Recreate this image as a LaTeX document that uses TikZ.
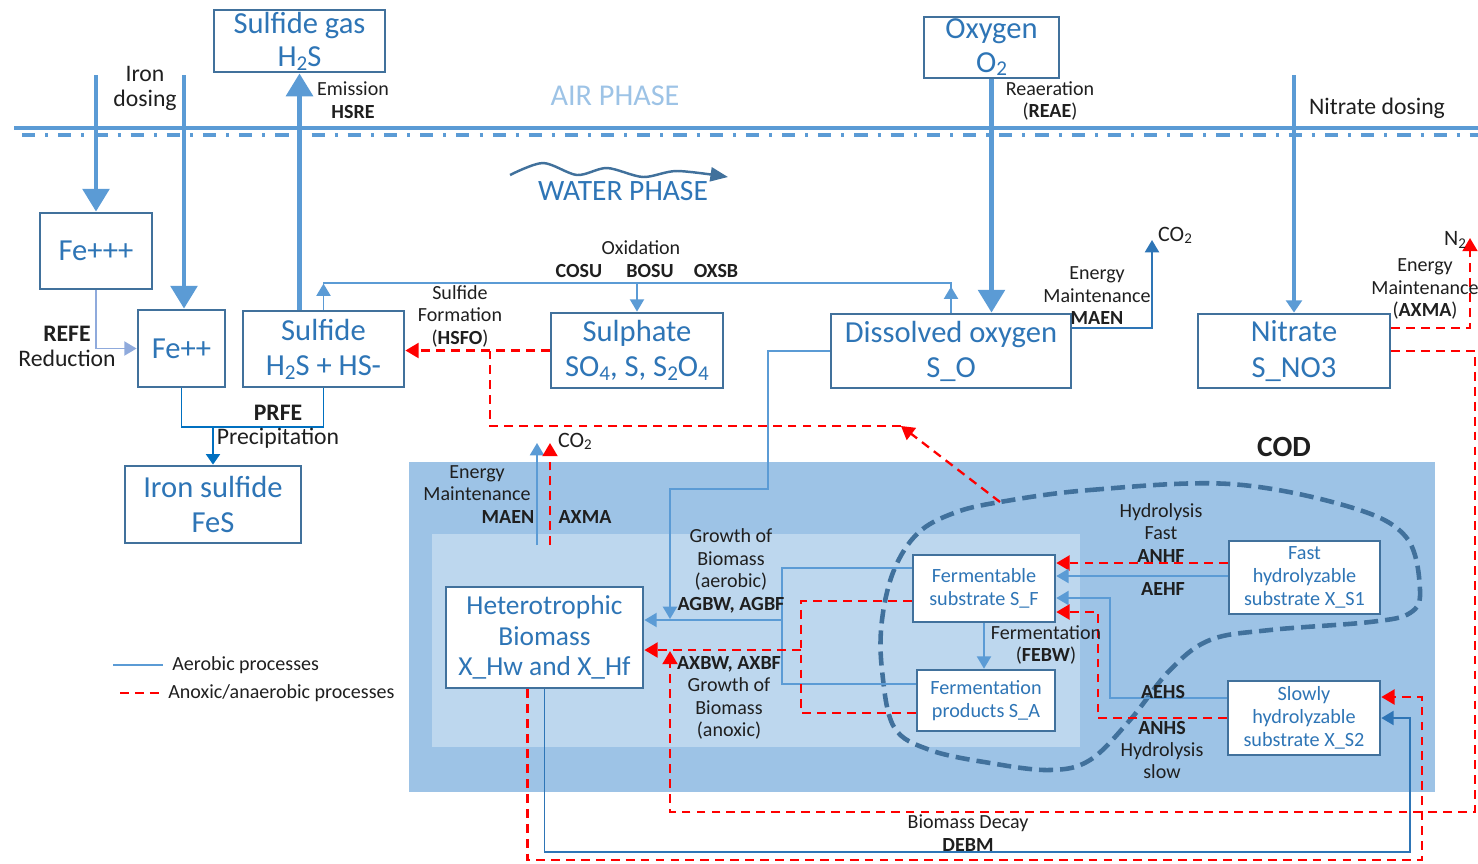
\documentclass[tikz,border=0pt]{standalone}
\usepackage{fontspec}
\setmainfont{Carlito}
\usetikzlibrary{arrows.meta,calc}
\definecolor{boxline}{HTML}{41719C}
\definecolor{boxtxt}{HTML}{2E75B6}
\definecolor{arrowblue}{HTML}{5B9BD5}
\definecolor{darkblue}{HTML}{2E75B6}
\definecolor{codfill}{HTML}{9DC3E6}
\definecolor{codinner}{HTML}{BDD7EE}
\definecolor{refeblue}{HTML}{8FAADC}
\definecolor{precblue}{HTML}{0070C0}
\definecolor{labeltxt}{HTML}{1F1F1F}
\newcommand{\subn}[1]{\raisebox{-0.12em}{\fontsize{12}{12}\selectfont#1}}
\newcommand{\subs}[1]{\raisebox{-0.1em}{\fontsize{8.5}{8.5}\selectfont#1}}
\begin{document}
\begin{tikzpicture}[x=0.02cm,y=-0.02cm,
	box/.style={draw=boxline,line width=1.6pt,fill=white,text=boxtxt,align=center,inner sep=0pt,font=\fontsize{17.4}{20}\selectfont},
	smallbox/.style={box,line width=1.5pt,font=\fontsize{11.5}{13}\selectfont},
	sz/.style 2 args={minimum width=#1*0.02cm,minimum height=#2*0.02cm},
	lbl/.style={align=center,inner sep=0pt,text=labeltxt,font=\fontsize{11.4}{12.8}\selectfont},
	biglbl/.style={lbl,font=\fontsize{13.5}{14.2}\selectfont},
	big/.style={draw=arrowblue,line width=2.8pt,-{Triangle[width=15pt,length=13pt]}},
	aer/.style={draw=arrowblue,line width=1.1pt},
	aerarr/.style={aer,-{Triangle[width=8pt,length=7pt]}},
	darkarr/.style={draw=darkblue,line width=1.1pt,-{Triangle[width=8pt,length=7pt]}},
	anox/.style={draw=red,line width=1.3pt,dash pattern=on 5pt off 3.5pt},
	anoxarr/.style={anox,-{Triangle[width=8.5pt,length=7.5pt]}}]
	\useasboundingbox (0,0) rectangle (1478,863);
	% air / water phase
	\draw[arrowblue,line width=2.8pt] (14,128)--(1478,128);
	\draw[arrowblue,line width=1.9pt,dash pattern=on 7.5pt off 5.7pt on 1.7pt off 5.7pt] (22,135)--(1478,135);
	\node[lbl,text=codfill,font=\fontsize{17.2}{20}\selectfont] (air) at (615,96) {AIR PHASE};
	\node[lbl,text=darkblue,font=\fontsize{16.8}{20}\selectfont] (water) at (623,191) {WATER PHASE};
	\draw[boxline,line width=1.4pt,-{Triangle[width=8pt,length=10pt]}] plot[smooth] coordinates {(510,175)(543,163)(577,175)(607,168)(643,177)(677,171)(728,177)};
	% COD region
	\fill[codfill] (409,462) rectangle (1435,792);
	\fill[codinner] (432,534) rectangle (1080,747);
	\node[lbl,font=\fontsize{16.7}{20}\selectfont\bfseries] (cod) at (1284,447) {COD};
	\draw[boxline,line width=2.6pt,dash pattern=on 8pt off 4pt] plot[smooth cycle,tension=0.6] coordinates {(1000,502)(1090,490)(1230,484)(1350,507)(1406,537)(1420,590)(1410,613)(1370,622)(1270,630)(1210,640)(1170,670)(1130,720)(1090,760)(1050,770)(990,763)(930,750)(894,727)(882,670)(882,620)(894,570)(918,533)(954,513)};
	% boxes
	\node[box,sz={171}{62},font=\fontsize{17.4}{19}\selectfont] (sgas) at (299.5,41) {Sulfide gas\\H\subn{2}S};
	\node[box,sz={135}{61},font=\fontsize{17.4}{19}\selectfont] (oxy) at (991.5,47.5) {Oxygen\\O\subn{2}};
	\node[box,sz={112}{76}] (fe3) at (96,251) {Fe+++};
	\node[box,sz={87}{77}] (fe2) at (181.5,348.5) {Fe++};
	\node[box,sz={161}{76}] (sulf) at (323.5,349) {Sulfide\\H\subn{2}S + HS-};
	\node[box,sz={172}{75}] (sulph) at (637,350.5) {Sulphate\\SO\subn{4}, S, S\subn{2}O\subn{4}};
	\node[box,sz={240}{74}] (dox) at (951,351) {Dissolved oxygen\\S\_O};
	\node[box,sz={192}{74}] (nitr) at (1294,351) {Nitrate\\S\_NO3};
	\node[box,sz={176}{77}] (fes) at (213,504.5) {Iron sulfide\\FeS};
	\node[box,sz={197}{101},font=\fontsize{15.6}{17.4}\selectfont] (het) at (544.5,637.5) {Heterotrophic\\Biomass\\X\_Hw and X\_Hf};
	\node[smallbox,sz={142}{67}] (sf) at (984,588.5) {Fermentable\\substrate S\_F};
	\node[smallbox,sz={138}{61}] (sa) at (986,700.5) {Fermentation\\products S\_A};
	\node[smallbox,sz={151}{73}] (xs1) at (1304.5,577.5) {Fast\\hydrolyzable\\substrate X\_S1};
	\node[smallbox,sz={152}{74}] (xs2) at (1304,718) {Slowly\\hydrolyzable\\substrate X\_S2};
	% dosing, emission, reaeration
	\coordinate (dose1) at (96,75);
	\coordinate (dose2) at (184,75);
	\coordinate (ndose) at (1294,75);
	\draw[big] (dose1) -- (fe3.north);
	\draw[big] (dose2) -- (dose2 |- fe2.north);
	\draw[big] (sgas.south |- sulf.north) -- (sgas.south);
	\draw[big] (oxy.south) -- (oxy.south |- dox.north);
	\draw[draw=arrowblue,line width=2.2pt,-{Triangle[width=9pt,length=7pt]}] (ndose) -- (nitr.north);
	\node[biglbl] (irondose) at (145,88) {Iron\\dosing};
	\node[lbl] (emis) at (353,100) {Emission\\\textbf{HSRE}};
	\node[lbl] (reae) at (1050,101) {Reaeration\\(\textbf{REAE})};
	\node[biglbl] (ndoselbl) at (1377,108) {Nitrate dosing};
	% iron
	\draw[draw=refeblue,line width=1.1pt,-{Triangle[width=8pt,length=7pt]}] (fe3.south) |- (fe2.west);
	\node[biglbl] (refe) at (67,334) {\textbf{REFE}};
	\node[biglbl] (redu) at (67,358) {Reduction};
	\coordinate (prc) at (213,427);
	\draw[draw=precblue,line width=1.1pt] (fe2.south) |- (prc) -| (sulf.south);
	\draw[draw=precblue,line width=1.1pt,-{Triangle[width=8pt,length=6pt]}] (prc) -- (fes.north);
	\node[biglbl] (prfe) at (278,413) {\textbf{PRFE}};
	\node[biglbl] (prec) at (278,438) {Precipitation};
	% oxidation
	\coordinate (ox) at (637,283);
	\draw[aer] (sulf.north) |- (ox) -| (dox.north);
	\draw[aerarr] (sulf.north) -- ++(0,-26);
	\draw[aerarr] (dox.north) -- ++(0,-26);
	\draw[aerarr] (ox) -- (sulph.north);
	\node[lbl] (oxid) at (641,248) {Oxidation};
	\node[lbl] (cosu) at (579,271) {\textbf{COSU}};
	\node[lbl] (bosu) at (650,271) {\textbf{BOSU}};
	\node[lbl] (oxsb) at (716,271) {\textbf{OXSB}};
	% sulfide formation
	\coordinate (codtip) at (901,426);
	\coordinate (blobtop) at (1000,502);
	\coordinate (hsj) at (490,350.5);
	\draw[anoxarr] (sulph.west) -- (sulph.west -| sulf.east);
	\draw[anoxarr] (blobtop) -- (codtip);
	\draw[anox] (codtip) -| (hsj);
	\node[lbl] (hsfo) at (460,316) {Sulfide\\Formation\\(\textbf{HSFO})};
	% energy maintenance
	\coordinate (co2a) at (1152,240);
	\coordinate (n2) at (1470,238);
	\draw[darkarr] ([yshift=0.46cm]dox.east) -| (co2a);
	\draw[anoxarr] ([yshift=0.46cm]nitr.east) -| (n2);
	\node[lbl,font=\fontsize{12.5}{14}\selectfont] (co2alb) at (1175,235) {CO\subs{2}};
	\node[lbl,font=\fontsize{12.5}{14}\selectfont] (n2lb) at (1455,240) {N\subs{2}};
	\node[lbl] (maena) at (1097,296) {Energy\\Maintenance\\\textbf{MAEN}};
	\node[lbl] (axmaa) at (1425,289) {Energy\\Maintenance\\(\textbf{AXMA})};
	\coordinate (mb) at (537,545);
	\coordinate (mr) at (550,545);
	\coordinate (co2b) at (537,443);
	\coordinate (co2r) at (550,443);
	\draw[aerarr] (mb) -- (co2b);
	\draw[anoxarr] (mr) -- (co2r);
	\node[lbl,font=\fontsize{12.5}{14}\selectfont] (co2blb) at (575,441) {CO\subs{2}};
	\node[lbl] (emb) at (477,483) {Energy\\Maintenance};
	\node[lbl] (maenb) at (508,517) {\textbf{MAEN}};
	\node[lbl] (axmab) at (585,517) {\textbf{AXMA}};
	% growth of biomass
	\coordinate (doa) at (768,489);
	\coordinate (aerin) at (670,619);
	\coordinate (nr1) at (1475,812);
	\coordinate (anxin) at (670,651);
	\coordinate (ga) at (782,620);
	\coordinate (gx) at (801,650);
	\draw[aerarr] (dox.west) -| (doa) -| (aerin);
	\draw[anoxarr] (nitr.east) -| (nr1) -| (anxin);
	\draw[aer] ([yshift=0.41cm]sf.west) -| (ga) |- ([yshift=0.33cm]sa.west);
	\draw[aerarr] (ga) -- (ga -| het.east);
	\draw[anox] ([yshift=-0.25cm]sf.west) -| (gx) |- ([yshift=-0.25cm]sa.west);
	\draw[anoxarr] (gx) -- (gx -| het.east);
	\node[lbl] (gaer) at (731,571) {Growth of\\Biomass\\(aerobic)\\\textbf{AGBW, AGBF}};
	\node[lbl] (ganx) at (729,698) {\textbf{AXBW, AXBF}\\Growth of\\Biomass\\(anoxic)};
	% hydrolysis and fermentation
	\coordinate (f1) at ([yshift=0.29cm]xs1.west);
	\coordinate (f2) at ([yshift=0.03cm]xs1.west);
	\coordinate (sb) at (1110,598);
	\coordinate (sr) at (1098,612);
	\draw[anoxarr] (f1) -- (f1 -| sf.east);
	\draw[aerarr] (f2) -- (f2 -| sf.east);
	\draw[aerarr] ([yshift=0.4cm]xs2.west) -| (sb) -- (sb -| sf.east);
	\draw[anoxarr] (xs2.west) -| (sr) -- (sr -| sf.east);
	\draw[aerarr] (sf.south) -- (sf.south |- sa.north);
	\node[lbl] (hfast) at (1161,533) {Hydrolysis\\Fast\\\textbf{ANHF}};
	\node[lbl] (aehf) at (1163,589) {\textbf{AEHF}};
	\node[lbl] (aehs) at (1163,692) {\textbf{AEHS}};
	\node[lbl] (hslow) at (1162,750) {\textbf{ANHS}\\Hydrolysis\\slow};
	\node[lbl] (febw) at (1046,645) {Fermentation\\(\textbf{FEBW})};
	% decay
	\coordinate (dbb) at (1410,852);
	\coordinate (dbr) at (1422,860);
	\coordinate (hr) at ([xshift=-0.34cm]het.south);
	\draw[darkarr] (het.south) |- (dbb) |- (xs2.east);
	\draw[anoxarr] (hr) |- (dbr) |- ([yshift=0.42cm]xs2.east);
	\node[lbl] (debm) at (968,833) {Biomass Decay\\\textbf{DEBM}};
	% legend
	\draw[aer] (113,665) -- (163,665);
	\draw[anox] (120,693) -- (160,693);
	\node[lbl,anchor=west] (lgaer) at (172,665) {Aerobic processes};
	\node[lbl,anchor=west] (lganx) at (168,693) {Anoxic/anaerobic processes};
\end{tikzpicture}
\end{document}
